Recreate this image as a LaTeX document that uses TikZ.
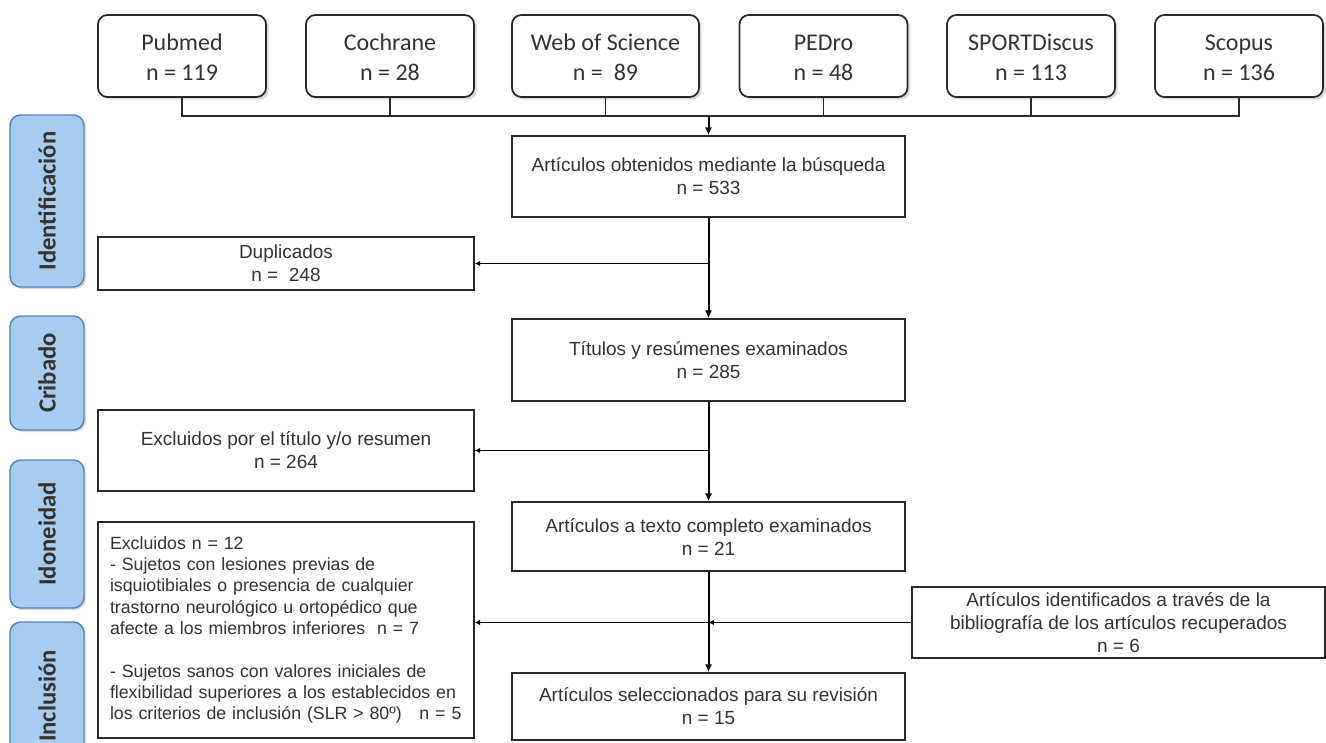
\documentclass[tikz,border=0pt]{standalone}
\usepackage{graphicx}
\usepackage{fontspec}
\setmainfont{Liberation Sans}
\newfontfamily\calib{Carlito}
\usetikzlibrary{shadows,arrows.meta}
\definecolor{txt}{RGB}{51,51,51}
\definecolor{lblfill}{RGB}{168,203,240}
\definecolor{lbldraw}{RGB}{83,130,185}
\definecolor{boxdraw}{RGB}{40,40,40}
\newcommand{\srctext}[2]{\strut #1\\#2\rule[-2.1pt]{0pt}{2.1pt}}
\begin{document}
\begin{tikzpicture}[x=0.75pt,y=-0.75pt,
  srcbox/.style={draw=boxdraw,line width=1.3pt,rounded corners=7pt,fill=white,
    minimum width=126pt,minimum height=61.5pt,inner sep=0pt,align=center,
    font=\calib\fontsize{18}{23}\selectfont,text=txt,
    drop shadow={shadow xshift=2pt,shadow yshift=-2pt,opacity=0.3}},
  flowbox/.style={draw=boxdraw,line width=1.1pt,fill=white,inner sep=0pt,
    align=center,font=\fontsize{14.25}{17.25}\selectfont,text=txt},
  midbox/.style={flowbox,minimum width=294.75pt},
  leftbox/.style={flowbox,minimum width=282pt},
  phase/.style={draw=lbldraw,line width=1.1pt,rounded corners=8pt,fill=lblfill,
    minimum width=55.5pt,inner sep=0pt,
    font=\calib\bfseries\fontsize{18.5}{22}\selectfont,text=txt,
    drop shadow={shadow xshift=1.5pt,shadow yshift=-1.5pt,opacity=0.3}},
  busline/.style={draw=boxdraw,line width=1pt},
  mainarrow/.style={draw=black,line width=1.5pt,-{Latex[length=6pt,width=5.5pt]}},
  sidearrow/.style={draw=black,line width=1.1pt,-{Latex[length=4pt,width=4pt]}}
]
\useasboundingbox (0,0) rectangle (1326,742);
\clip (0,0) rectangle (1326,742);

% phase labels
\node[phase,minimum height=129pt] (ph1) at (47,201) {\rotatebox{90}{Identificación}};
\node[phase,minimum height=85.5pt] (ph2) at (47,373) {\rotatebox{90}{Cribado}};
\node[phase,minimum height=111pt] (ph3) at (47,534) {\rotatebox{90}{Idoneidad}};
\node[phase,minimum height=111pt] (ph4) at (47,696) {\rotatebox{90}{Inclusión}};

% sources
\node[srcbox] (pub) at (182,56) {\srctext{Pubmed}{n = 119}};
\node[srcbox] (coch) at (390,56) {\srctext{Cochrane}{n = 28}};
\node[srcbox,minimum width=140.25pt] (wos) at (605.5,56) {\srctext{Web of Science}{n =\ \ 89}};
\node[srcbox] (ped) at (823.5,56) {\srctext{PEDro}{n = 48}};
\node[srcbox] (spd) at (1031,56) {\srctext{SPORTDiscus}{n = 113}};
\node[srcbox] (sco) at (1239,56) {\srctext{Scopus}{n = 136}};

% flow boxes
\node[midbox,minimum height=60.75pt] (a1) at (708.5,176.5) {Artículos obtenidos mediante la búsqueda\\n = 533};
\node[leftbox,minimum height=39.75pt] (dup) at (286,263.5) {Duplicados\\n =\ \ 248};
\node[midbox,minimum height=61.5pt] (a2) at (708.5,360) {Títulos y resúmenes examinados\\n = 285};
\node[leftbox,minimum height=60.75pt] (exc1) at (286,450.5) {Excluidos por el título y/o resumen\\n = 264};
\node[midbox,minimum height=51.75pt] (a3) at (708.5,536.5) {Artículos a texto completo examinados\\n = 21};
\node[flowbox,minimum width=309.75pt,minimum height=53.25pt] (ident) at (1118.5,622.5)
  {Artículos identificados a través de la\\bibliografía de los artículos recuperados\\n = 6};
\node[flowbox,align=left,text width=264pt,inner xsep=9pt,minimum height=162pt,
  font=\fontsize{13.3}{16}\selectfont] (exc2) at (286,630)
  {Excluidos n = 12\\
   - Sujetos con lesiones previas de\\
   isquiotibiales o presencia de cualquier\\
   trastorno neurológico u ortopédico que\\
   afecte a los miembros inferiores\ \ n = 7\\[16pt]
   - Sujetos sanos con valores iniciales de\\
   flexibilidad superiores a los establecidos en\\
   los criterios de inclusión (SLR > 80º)\ \ \ n = 5};
\node[midbox,minimum height=50.25pt] (a4) at (708.5,706.5) {Artículos seleccionados para su revisión\\n = 15};

% bus
\coordinate (bus) at (708.5,116);
\draw[busline] (pub.south) -- (pub.south |- bus) -- (sco.south |- bus) -- (sco.south);
\draw[busline] (coch.south) -- (coch.south |- bus);
\draw[busline] (wos.south) -- (wos.south |- bus);
\draw[busline] (ped.south) -- (ped.south |- bus);
\draw[busline] (spd.south) -- (spd.south |- bus);
\draw[mainarrow] (bus) -- (a1.north);

% main flow
\draw[mainarrow] (a1) -- (a2);
\draw[mainarrow] (a2) -- (a3);
\draw[mainarrow] (a3) -- (a4);

% side arrows
\draw[sidearrow] (a1.south |- dup.east) -- (dup.east);
\draw[sidearrow] (a2.south |- exc1.east) -- (exc1.east);
\draw[sidearrow] (ident.west) -- (a3.south |- ident.west);
\draw[sidearrow] (a3.south |- ident.west) -- (exc2.east |- ident.west);
\end{tikzpicture}
\end{document}
